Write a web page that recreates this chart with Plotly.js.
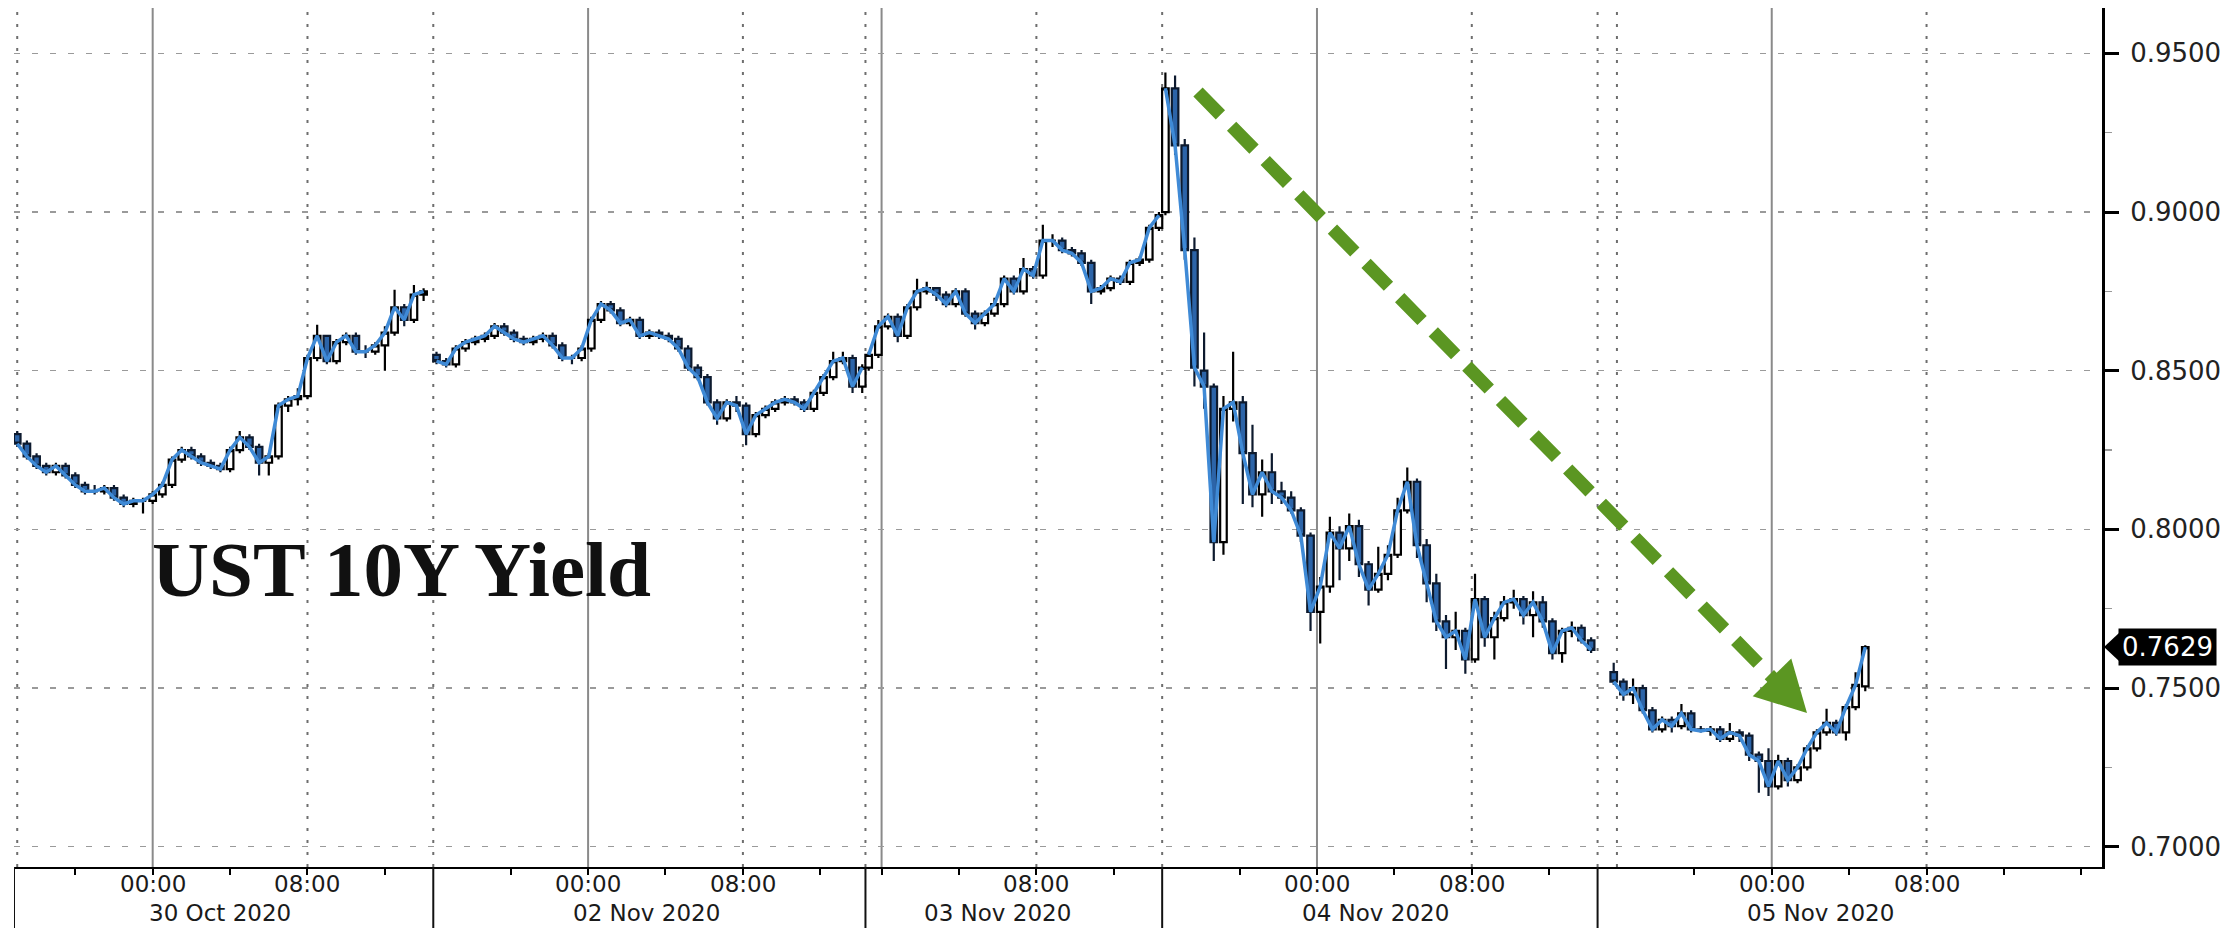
<!DOCTYPE html>
<html>
<head>
<meta charset="utf-8">
<script src="https://cdn.plot.ly/plotly-3.0.1.min.js"></script>
<style>
html,body{margin:0;padding:0;background:#fff;}
#chart{width:2224px;height:928px;}
</style>
</head>
<body>
<div id="chart"></div>
<script>
// ---------- DATA (30-minute candles) ----------
const sessionStarts = ['2020-10-29 17:00','2020-11-01 16:10','2020-11-02 23:20','2020-11-03 16:10','2020-11-04 15:50'];

const openA  = [0.830,0.827,0.823,0.820,0.818,0.820,0.817,0.814,0.812,0.812,0.813,0.810,0.808,0.809,0.809,0.811,0.814,0.822,0.825,0.823,0.821,0.820,0.819,0.825,0.829,0.826,0.821,0.823,0.839,0.841,0.842,0.854,0.861,0.853,0.859,0.861,0.856,0.856,0.858,0.862,0.870,0.866,0.874];
const highA  = [0.831,0.828,0.824,0.821,0.821,0.821,0.818,0.815,0.814,0.814,0.814,0.811,0.810,0.810,0.812,0.815,0.823,0.826,0.826,0.824,0.822,0.821,0.826,0.831,0.830,0.827,0.824,0.840,0.842,0.8445,0.855,0.8645,0.861,0.860,0.862,0.862,0.858,0.859,0.864,0.8755,0.871,0.877,0.876];
const lowA   = [0.826,0.822,0.819,0.817,0.817,0.816,0.813,0.811,0.811,0.811,0.809,0.807,0.807,0.805,0.808,0.810,0.813,0.821,0.822,0.820,0.819,0.818,0.818,0.824,0.825,0.817,0.817,0.822,0.837,0.839,0.841,0.853,0.852,0.852,0.858,0.855,0.854,0.855,0.850,0.861,0.864,0.865,0.872];
const closeA = [0.827,0.823,0.820,0.818,0.820,0.817,0.814,0.812,0.812,0.813,0.810,0.808,0.809,0.809,0.811,0.814,0.822,0.825,0.823,0.821,0.820,0.819,0.825,0.829,0.826,0.821,0.823,0.839,0.841,0.842,0.854,0.861,0.853,0.859,0.861,0.856,0.856,0.858,0.862,0.870,0.866,0.874,0.875];

const openB  = [0.855,0.853,0.852,0.857,0.859,0.860,0.861,0.864,0.862,0.860,0.859,0.860,0.861,0.858,0.854,0.854,0.857,0.866,0.871,0.869,0.865,0.866,0.861,0.862,0.861,0.860,0.857,0.851,0.848,0.840,0.835,0.840,0.839,0.830,0.836,0.838,0.840,0.841,0.840,0.838,0.843,0.848,0.853,0.854,0.845];
const highB  = [0.856,0.854,0.858,0.860,0.861,0.862,0.865,0.865,0.863,0.861,0.861,0.862,0.862,0.859,0.855,0.858,0.867,0.872,0.872,0.870,0.867,0.867,0.863,0.863,0.862,0.861,0.858,0.852,0.849,0.841,0.841,0.842,0.840,0.837,0.839,0.841,0.842,0.842,0.841,0.844,0.849,0.856,0.856,0.855,0.852];
const lowB   = [0.852,0.851,0.851,0.856,0.858,0.859,0.860,0.861,0.859,0.858,0.858,0.859,0.857,0.853,0.852,0.853,0.856,0.865,0.868,0.864,0.864,0.860,0.860,0.860,0.859,0.856,0.850,0.847,0.839,0.833,0.834,0.837,0.8265,0.829,0.835,0.837,0.839,0.839,0.837,0.837,0.842,0.847,0.852,0.843,0.843];
const closeB = [0.853,0.852,0.857,0.859,0.860,0.861,0.864,0.862,0.860,0.859,0.860,0.861,0.858,0.854,0.854,0.857,0.866,0.871,0.869,0.865,0.866,0.861,0.862,0.861,0.860,0.857,0.851,0.848,0.840,0.835,0.840,0.839,0.830,0.836,0.838,0.840,0.841,0.840,0.838,0.843,0.848,0.853,0.854,0.845,0.851];

const openC  = [0.851,0.855,0.864,0.867,0.861,0.870,0.875,0.876,0.874,0.871,0.875,0.868,0.865,0.868,0.871,0.879,0.875,0.882,0.880,0.891,0.891,0.888,0.887,0.884,0.875,0.876,0.879,0.878,0.884,0.885,0.895];
const highC  = [0.856,0.866,0.868,0.868,0.871,0.879,0.878,0.876,0.875,0.876,0.876,0.869,0.869,0.873,0.880,0.880,0.8855,0.883,0.896,0.893,0.892,0.889,0.888,0.885,0.877,0.880,0.880,0.885,0.886,0.896,0.900];
const lowC   = [0.850,0.854,0.863,0.859,0.860,0.869,0.874,0.872,0.870,0.870,0.867,0.863,0.864,0.867,0.870,0.874,0.874,0.879,0.879,0.889,0.887,0.886,0.883,0.871,0.874,0.875,0.877,0.877,0.883,0.884,0.894];
const closeC = [0.855,0.864,0.867,0.861,0.870,0.875,0.876,0.874,0.871,0.875,0.868,0.865,0.868,0.871,0.879,0.875,0.882,0.880,0.891,0.891,0.888,0.887,0.884,0.875,0.876,0.879,0.878,0.884,0.885,0.895,0.899];

const openD  = [0.900,0.939,0.921,0.888,0.850,0.845,0.796,0.838,0.840,0.824,0.811,0.818,0.812,0.810,0.806,0.798,0.774,0.782,0.799,0.794,0.801,0.789,0.781,0.786,0.792,0.806,0.815,0.795,0.783,0.771,0.766,0.768,0.759,0.778,0.766,0.772,0.777,0.778,0.773,0.777,0.771,0.761,0.768,0.769,0.765];
const highD  = [0.944,0.943,0.923,0.892,0.862,0.846,0.842,0.856,0.842,0.833,0.822,0.824,0.815,0.812,0.807,0.799,0.785,0.804,0.801,0.805,0.803,0.790,0.7945,0.795,0.810,0.8195,0.816,0.797,0.786,0.773,0.774,0.769,0.786,0.779,0.774,0.779,0.781,0.779,0.7805,0.779,0.772,0.769,0.771,0.770,0.766];
const lowD   = [0.899,0.918,0.885,0.845,0.838,0.790,0.792,0.834,0.808,0.807,0.804,0.808,0.808,0.805,0.796,0.768,0.764,0.780,0.784,0.790,0.785,0.776,0.780,0.784,0.791,0.805,0.791,0.777,0.768,0.756,0.762,0.7545,0.758,0.763,0.759,0.771,0.775,0.770,0.766,0.769,0.759,0.758,0.766,0.764,0.761];
const closeD = [0.939,0.921,0.888,0.851,0.845,0.796,0.838,0.840,0.824,0.811,0.818,0.812,0.810,0.806,0.798,0.774,0.782,0.799,0.794,0.801,0.789,0.781,0.786,0.792,0.806,0.815,0.795,0.783,0.771,0.766,0.768,0.759,0.778,0.766,0.772,0.777,0.778,0.773,0.777,0.771,0.761,0.768,0.769,0.765,0.762];

const openE  = [0.755,0.752,0.748,0.750,0.743,0.737,0.740,0.738,0.742,0.737,0.7365,0.737,0.734,0.736,0.735,0.729,0.727,0.719,0.727,0.721,0.725,0.731,0.736,0.739,0.736,0.744,0.7505];
const highE  = [0.758,0.753,0.753,0.751,0.744,0.741,0.741,0.745,0.743,0.738,0.738,0.738,0.739,0.737,0.736,0.730,0.731,0.729,0.728,0.726,0.732,0.737,0.7435,0.740,0.745,0.755,0.7635];
const lowE   = [0.751,0.746,0.745,0.742,0.736,0.736,0.736,0.737,0.736,0.736,0.735,0.733,0.733,0.733,0.727,0.717,0.716,0.718,0.719,0.720,0.724,0.730,0.735,0.735,0.7335,0.743,0.749];
const closeE = [0.752,0.748,0.750,0.743,0.737,0.740,0.738,0.742,0.737,0.7365,0.737,0.734,0.736,0.735,0.729,0.727,0.719,0.727,0.721,0.725,0.731,0.736,0.739,0.736,0.744,0.751,0.7629];

// axis furniture
const yTickVals = [0.70,0.75,0.80,0.85,0.90,0.95];
const xTickVals = ['2020-10-29 20:00','2020-10-30 00:00','2020-10-30 04:00','2020-10-30 08:00','2020-10-30 12:00',
  '2020-11-01 20:00','2020-11-02 00:00','2020-11-02 04:00','2020-11-02 08:00','2020-11-02 12:00',
  '2020-11-03 00:00','2020-11-03 04:00','2020-11-03 08:00','2020-11-03 12:00',
  '2020-11-03 20:00','2020-11-04 00:00','2020-11-04 04:00','2020-11-04 08:00','2020-11-04 12:00',
  '2020-11-04 20:00','2020-11-05 00:00','2020-11-05 04:00','2020-11-05 08:00','2020-11-05 12:00','2020-11-05 16:00'];
const timeLabelPos = ['2020-10-30 00:00','2020-10-30 08:00','2020-11-02 00:00','2020-11-02 08:00','2020-11-03 08:00',
  '2020-11-04 00:00','2020-11-04 08:00','2020-11-05 00:00','2020-11-05 08:00'];
const timeLabels = ['00:00','08:00','00:00','08:00','08:00','00:00','08:00','00:00','08:00'];
const dateLabels = ['30 Oct 2020','02 Nov 2020','03 Nov 2020','04 Nov 2020','05 Nov 2020'];
const dateLabelPos = ['2020-10-30 03:30','2020-11-02 03:00','2020-11-03 06:00','2020-11-04 03:00','2020-11-05 02:30'];
const midnightLines = ['2020-10-30 00:00','2020-11-02 00:00','2020-11-03 00:00','2020-11-04 00:00','2020-11-05 00:00'];
const dottedLines = ['2020-10-29 17:00','2020-10-30 08:00','2020-11-01 16:00','2020-11-02 08:00','2020-11-02 23:10','2020-11-03 08:00',
  '2020-11-03 16:00','2020-11-04 08:00','2020-11-04 15:00','2020-11-04 16:00','2020-11-05 08:00'];
const sessionEdges = ['2020-10-29 16:50','2020-11-01 16:00','2020-11-02 23:10','2020-11-03 16:00','2020-11-04 15:00'];
const gaps = [['2020-10-30 14:30','2020-11-01 16:00'],['2020-11-02 14:20','2020-11-02 23:10'],
  ['2020-11-03 14:30','2020-11-03 16:00'],['2020-11-04 14:30','2020-11-04 15:00']];
const xRange = ['2020-10-29 16:50','2020-11-05 17:04'];
const chartTitle = 'UST 10Y Yield';

// ---------- BUILD ----------
function halfHourTimes(start, n) {
  const [d, t] = start.split(' ');
  const [Y, Mo, D] = d.split('-').map(Number);
  const [h, m] = t.split(':').map(Number);
  const base = Date.UTC(Y, Mo - 1, D, h, m);
  const out = [];
  for (let i = 0; i < n; i++) out.push(new Date(base + i * 1800000).toISOString().slice(0, 16).replace('T', ' '));
  return out;
}
const segs = [
  [openA, highA, lowA, closeA], [openB, highB, lowB, closeB], [openC, highC, lowC, closeC],
  [openD, highD, lowD, closeD], [openE, highE, lowE, closeE]
];
let X = [], O = [], Hh = [], L = [], C = [], lineX = [], lineY = [];
segs.forEach((s, k) => {
  const t = halfHourTimes(sessionStarts[k], s[3].length);
  X = X.concat(t); O = O.concat(s[0]); Hh = Hh.concat(s[1]); L = L.concat(s[2]); C = C.concat(s[3]);
  if (k > 0) { lineX.push(null); lineY.push(null); }
  lineX = lineX.concat(t); lineY = lineY.concat(s[3]);
});

const W = 2224, H = 928;
const M = {l: 14, r: 122, t: 8, b: 61};
const PW = W - M.l - M.r, PH = H - M.t - M.b;
const px = x => (x - M.l) / PW;
const py = y => (H - M.b - y) / PH;

const shapes = [];
midnightLines.forEach(x => shapes.push({type: 'line', xref: 'x', yref: 'paper', x0: x, x1: x, y0: 0, y1: 1,
  line: {color: '#8a8a8a', width: 2}, layer: 'below'}));
dottedLines.forEach(x => shapes.push({type: 'line', xref: 'x', yref: 'paper', x0: x, x1: x, y0: 0, y1: 1,
  line: {color: '#6e6e6e', width: 2, dash: '3px,9px'}, layer: 'below'}));
sessionEdges.forEach(x => shapes.push({type: 'line', xref: 'x', yref: 'paper', x0: x, x1: x, y0: py(H), y1: 0,
  line: {color: '#111', width: 2}}));
// green dashed trend arrow
const aStart = [1198, 92], aTip = [1807, 713];
const dx = aTip[0] - aStart[0], dy = aTip[1] - aStart[1], len = Math.hypot(dx, dy);
const ux = dx / len, uy = dy / len, headL = 50, headW = 27;
const base = [aTip[0] - ux * headL, aTip[1] - uy * headL];
shapes.push({type: 'line', xref: 'paper', yref: 'paper', x0: px(aStart[0]), y0: py(aStart[1]),
  x1: px(base[0] + ux * 6), y1: py(base[1] + uy * 6), line: {color: '#5b9622', width: 13, dash: '32px,16px'}});
const c1 = [base[0] + uy * headW, base[1] - ux * headW], c2 = [base[0] - uy * headW, base[1] + ux * headW];
shapes.push({type: 'path', xref: 'paper', yref: 'paper',
  path: `M ${px(aTip[0])} ${py(aTip[1])} L ${px(c1[0])} ${py(c1[1])} L ${px(c2[0])} ${py(c2[1])} Z`,
  fillcolor: '#5b9622', line: {width: 0}});
// last-price marker notch
const lastVal = closeE[closeE.length - 1];
const yr = [0.6936, 0.9643];
const lastPy = M.t + (yr[1] - lastVal) / (yr[1] - yr[0]) * PH;
shapes.push({type: 'path', xref: 'paper', yref: 'paper',
  path: `M ${px(2104)} ${py(lastPy)} L ${px(2119)} ${py(lastPy - 14)} L ${px(2119)} ${py(lastPy + 14)} Z`,
  fillcolor: '#000', line: {width: 0}});

const annotations = [];
timeLabels.forEach((t, i) => annotations.push({xref: 'x', yref: 'paper', x: timeLabelPos[i], y: py(884),
  text: t, showarrow: false, xanchor: 'center', yanchor: 'middle',
  font: {family: 'DejaVu Sans', size: 23, color: '#1a1a1a'}}));
dateLabels.forEach((t, i) => annotations.push({xref: 'x', yref: 'paper', x: dateLabelPos[i], y: py(913),
  text: t, showarrow: false, xanchor: 'center', yanchor: 'middle',
  font: {family: 'DejaVu Sans', size: 23, color: '#1a1a1a'}}));
annotations.push({xref: 'paper', yref: 'y', x: px(2118), y: lastVal, text: lastVal.toFixed(4), showarrow: false,
  xanchor: 'left', yanchor: 'middle', bgcolor: '#000', borderpad: 3,
  font: {family: 'DejaVu Sans', size: 26, color: '#fff'}});
annotations.push({xref: 'paper', yref: 'paper', x: px(150), y: py(569), text: '<b>' + chartTitle + '</b>',
  showarrow: false, xanchor: 'left', yanchor: 'middle',
  font: {family: 'Liberation Serif, Times New Roman, serif', size: 79, color: '#111'}});

const traces = [
  {type: 'scatter', mode: 'lines', x: lineX, y: lineY, connectgaps: false,
   line: {color: '#3f8ad6', width: 3.5}, hoverinfo: 'skip', showlegend: false},
  {type: 'candlestick', x: X, open: O, high: Hh, low: L, close: C, whiskerwidth: 0,
   increasing: {line: {color: '#000', width: 2.2}, fillcolor: '#ffffff'},
   decreasing: {line: {color: '#0d1a2e', width: 2.2}, fillcolor: '#2c64a8'},
   showlegend: false}
];

const layout = {
  width: W, height: H, margin: M,
  paper_bgcolor: '#fff', plot_bgcolor: '#fff',
  font: {family: 'DejaVu Sans', color: '#1a1a1a'},
  showlegend: false,
  boxgap: 0.2, boxgroupgap: 0.15,
  xaxis: {
    type: 'date', range: xRange, rangeslider: {visible: false},
    rangebreaks: gaps.map(g => ({bounds: g})),
    tickmode: 'array', tickvals: xTickVals, showticklabels: false,
    ticks: 'outside', ticklen: 6, tickwidth: 2, tickcolor: '#000',
    showgrid: false, zeroline: false, showline: true, linecolor: '#000', linewidth: 2, fixedrange: true
  },
  yaxis: {
    side: 'right', range: yr, tickmode: 'array', tickvals: yTickVals,
    ticktext: yTickVals.map(v => v.toFixed(4)),
    ticks: 'outside', ticklen: 14, tickwidth: 3, tickcolor: '#000', ticklabelstandoff: 6,
    tickfont: {family: 'DejaVu Sans', size: 26, color: '#222'},
    minor: {dtick: 0.025, tick0: 0.7, ticks: 'outside', ticklen: 7, tickwidth: 1.5, tickcolor: '#999', showgrid: false},
    showgrid: true, gridcolor: '#9a9a9a', gridwidth: 1.5, griddash: '6px,12px',
    zeroline: false, showline: true, linecolor: '#000', linewidth: 3, fixedrange: true
  },
  shapes: shapes,
  annotations: annotations
};

Plotly.newPlot('chart', traces, layout, {displayModeBar: false, staticPlot: true});
</script>
</body>
</html>
